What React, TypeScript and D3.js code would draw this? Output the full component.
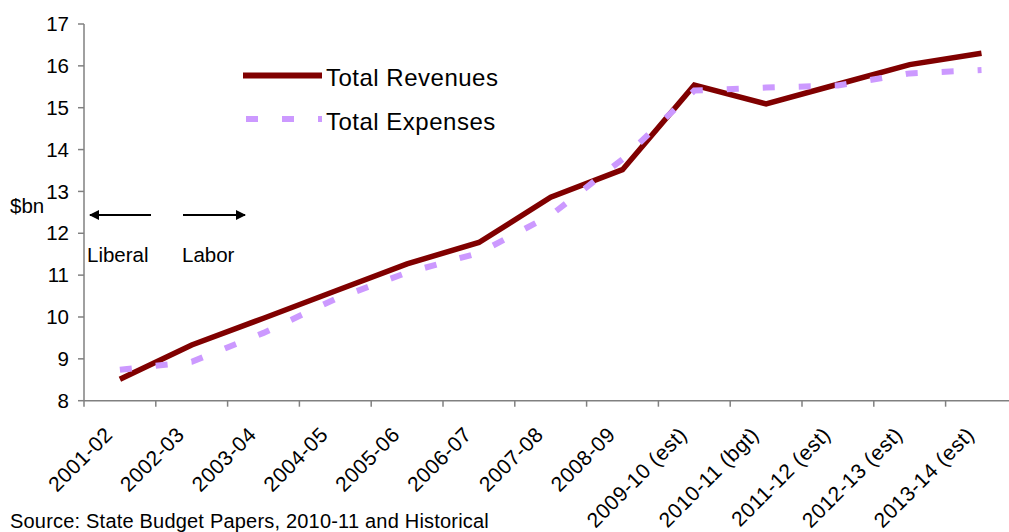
import { useMemo } from 'react'
import * as d3 from 'd3'

const categories = [
  '2001-02', '2002-03', '2003-04', '2004-05', '2005-06', '2006-07', '2007-08',
  '2008-09', '2009-10 (est)', '2010-11 (bgt)', '2011-12 (est)', '2012-13 (est)', '2013-14 (est)',
]
const revenues = [8.51, 9.33, 9.97, 10.62, 11.27, 11.78, 12.86, 13.52, 15.54, 15.09, 15.56, 16.03, 16.3]
const expenses = [8.74, 8.93, 9.62, 10.43, 11.06, 11.53, 12.43, 13.77, 15.41, 15.48, 15.53, 15.82, 15.9]
const yTicks = [8, 9, 10, 11, 12, 13, 14, 15, 16, 17]

const W = 1009
const H = 532
const FONT = '"Liberation Sans", Arial, sans-serif'

export default function App() {
  const x = useMemo(() => d3.scaleBand<string>().domain(categories).range([84, 1017.4]).padding(0), [])
  const y = useMemo(() => d3.scaleLinear().domain([8, 17]).range([400.7, 24]), [])
  const cx = (c: string) => (x(c) ?? 0) + x.bandwidth() / 2

  const line = d3.line<number>()
    .x((_, i) => cx(categories[i]))
    .y(d => y(d))

  const tickXs = d3.range(categories.length + 1).map(i => 84 + i * x.bandwidth())

  return (
    <div style={{ position: 'fixed', left: 0, top: 0, width: W, height: H, background: '#fff' }}>
      <svg width={W} height={H} style={{ display: 'block', fontFamily: FONT }}>
        <defs>
          <marker id="ah" viewBox="0 0 10 10" refX="9" refY="5" markerWidth="6" markerHeight="5" orient="auto-start-reverse">
            <path d="M0,0 L10,5 L0,10 z" fill="#000" />
          </marker>
        </defs>

        {/* y axis */}
        <line x1={84} x2={84} y1={y(17)} y2={y(8)} stroke="#808080" strokeWidth={1.5} />
        {yTicks.map(t => (
          <g key={t}>
            <line x1={78} x2={84} y1={y(t)} y2={y(t)} stroke="#808080" strokeWidth={1.5} />
            <text x={69} y={y(t)} dy="0.35em" textAnchor="end" fontSize={20.5} fill="#000">{t}</text>
          </g>
        ))}

        {/* x axis */}
        <line x1={84} x2={W} y1={y(8)} y2={y(8)} stroke="#808080" strokeWidth={1.5} />
        {tickXs.map((tx, i) => (
          <line key={i} x1={tx} x2={tx} y1={y(8)} y2={y(8) + 6} stroke="#808080" strokeWidth={1.5} />
        ))}
        {categories.map(c => (
          <text key={c} transform={`translate(${cx(c) - 6},${436}) rotate(-45)`} textAnchor="end"
            fontSize={21} letterSpacing={0.5} fill="#000">{c}</text>
        ))}

        {/* series */}
        <path d={line(revenues) ?? ''} fill="none" stroke="#800000" strokeWidth={5.5} />
        <path d={line(expenses) ?? ''} fill="none" stroke="#CC99FF" strokeWidth={6} strokeDasharray="12 24" />

        {/* legend */}
        <line x1={243} x2={322} y1={75.5} y2={75.5} stroke="#800000" strokeWidth={6} />
        <text x={326} y={86} fontSize={24} letterSpacing={0.5} fill="#000">Total Revenues</text>
        <line x1={246} x2={322} y1={119} y2={119} stroke="#CC99FF" strokeWidth={6} strokeDasharray="12 24" />
        <text x={326} y={130} fontSize={24} letterSpacing={0.5} fill="#000">Total Expenses</text>

        {/* annotations */}
        <text x={10} y={213} fontSize={20.5} fill="#000">$bn</text>
        <line x1={151} x2={90} y1={215} y2={215} stroke="#000" strokeWidth={2} markerEnd="url(#ah)" />
        <line x1={183} x2={245} y1={215} y2={215} stroke="#000" strokeWidth={2} markerEnd="url(#ah)" />
        <text x={87} y={262} fontSize={20.5} fill="#000">Liberal</text>
        <text x={182} y={262} fontSize={20.5} fill="#000">Labor</text>

        <text x={10} y={527.5} fontSize={20} letterSpacing={0.2} fill="#000">Source: State Budget Papers, 2010-11 and Historical</text>
      </svg>
    </div>
  )
}
